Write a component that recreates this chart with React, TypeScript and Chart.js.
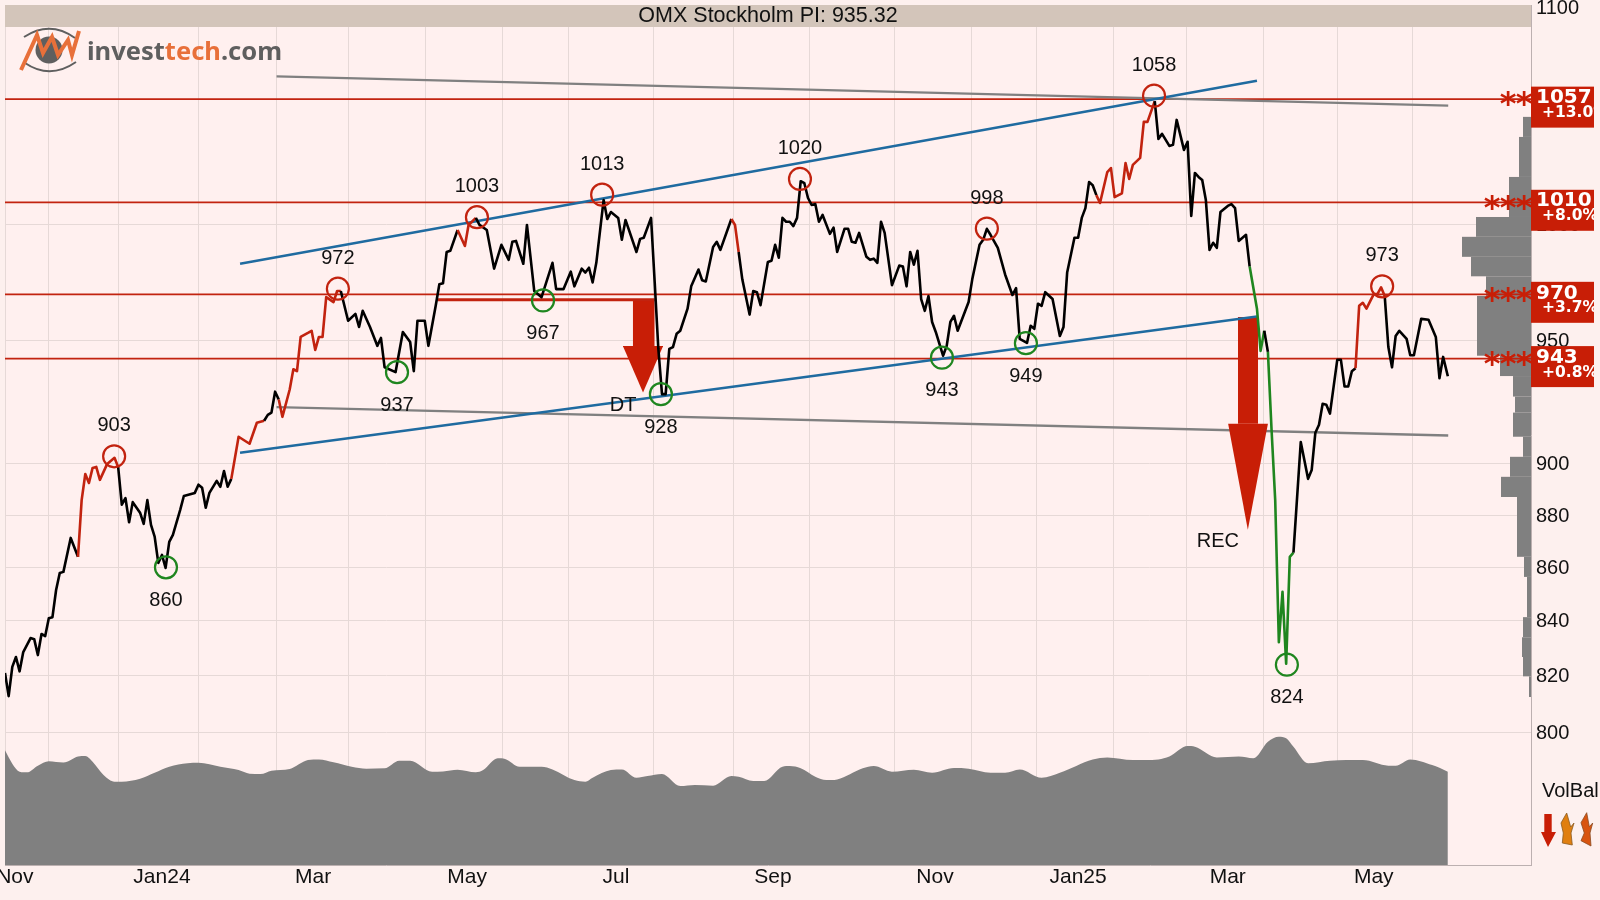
import React, { useEffect, useRef } from "react";
import { Chart, registerables } from "chart.js";

Chart.register(...registerables);

const titleText = "OMX Stockholm PI: 935.32";

// session = trading day counted from the left edge of the chart
const priceSessions = [
  0, 1, 2, 3, 4, 5, 7, 8, 9, 10, 11, 12, 13, 14, 15, 16, 18, 20, 21, 22, 23, 24, 25, 26, 28, 30, 31, 32, 33, 34, 35, 37, 38, 39, 40, 41, 42, 43, 44, 45, 46, 48, 49, 52, 53, 54, 55, 56, 58, 59,
  60, 61, 62, 64, 67, 69, 71, 72, 73, 74, 75, 76, 78, 79, 80, 81, 83, 84, 85, 86, 87, 88, 90, 91, 92, 94, 96, 97, 98, 100, 102, 103, 104, 107, 109, 111, 112, 113, 115, 116, 118, 119,
  120, 121, 122, 124, 126, 127, 129, 130, 132, 134, 136, 138, 139, 140, 142, 143, 145, 147, 150, 151, 153, 155, 156, 158, 159, 160, 161, 162, 164, 165, 166, 168, 169, 170, 173, 174, 175, 177, 178, 179,
  180, 181, 182, 183, 184, 185, 187, 188, 190, 191, 192, 194, 195, 196, 199, 200, 201, 202, 204, 205, 206, 207, 209, 210, 211, 212, 213, 214, 215, 216, 217, 218, 219,
  220, 221, 222, 223, 224, 226, 227, 228, 230, 231, 232, 233, 234, 236, 237, 238, 239, 240, 241, 243, 245, 246, 247, 248, 249, 250, 251, 252, 253, 254, 255, 257, 258, 259,
  260, 261, 264, 265, 267, 268, 269, 270, 272, 274, 276, 277, 278, 279, 280, 281, 282, 283, 284, 285, 287, 289, 290, 291, 293, 294, 295, 296, 297, 298, 299,
  300, 302, 303, 304, 306, 307, 308, 309, 311, 312, 313, 315, 316, 317, 319, 320, 321, 323, 324, 325, 326, 327, 328, 329, 330, 331, 332, 333, 335, 336, 337, 338, 340, 341, 343, 344, 345, 346, 347, 348, 349,
  350, 351, 352, 353, 355, 357, 358, 359, 360, 361, 362, 363, 365, 366, 367, 368, 369, 370, 371, 372, 373, 375, 376, 377, 378, 379,
  380, 381, 382, 384, 385, 386, 388, 390, 392, 393, 394, 395.3,
];
const priceValues = [
  821, 812.7, 823.2, 826.8, 821.6, 828.6, 833.7, 833.3, 827.5, 835.2, 834.4, 841, 841.4, 851.5, 857.9, 858.3, 871.2, 864, 885.8, 896, 892.5, 898.4, 898.8, 893.7, 900, 902.4, 898.8, 884, 886.6, 877.2, 885, 880.9, 876.6, 885.8, 876.2, 871.7, 861.7, 864.7, 859.8, 869.7, 872.4, 882, 887.4, 888.6, 891.8, 890.6, 882.8, 888.6, 893.3, 891,
  897.2, 891, 894.1, 910.8, 908, 916.4, 917.2, 919.6, 920.5, 929, 925.8, 918.8, 929.9, 938.2, 937.4, 951.6, 953.3, 954.2, 946.2, 951.6, 951.6, 968.4, 966.3, 971, 971, 958.4, 961.3, 955.8, 962.6, 955.8, 947.9, 951.2, 939, 937, 953.7, 949.5, 937.4, 958.4, 958.4, 947.9, 964.7, 973.9,
  974.3, 987.8, 988.3, 997.4, 990.4, 999.6, 1002.7, 999.6, 997.4, 980.6, 990.9, 984.4, 992.2, 992.6, 982.7, 999.6, 971, 968.4, 983.1, 971.8, 971.8, 979.3, 973, 980.6, 978.9, 981, 974.7, 983.1, 1010.6, 1002.2, 1005.3, 1002.7, 993.1, 1001.8, 987.8, 993.5, 994, 1002.7, 974.7, 946.6,
  928, 928, 946.6, 947.4, 952.9, 954.2, 963.5, 973, 980.2, 975.6, 975.1, 990, 992.2, 988.7, 1002.2, 999.6, 987.8, 976, 961, 971, 970.5, 965, 983.5, 984, 990.9, 985.3, 1002.7, 1001, 1001, 999.1, 1002.7, 1019, 1018.1,
  1011.5, 1008.4, 1008.8, 1001, 1004, 995.7, 998.4, 987.8, 997.9, 997.9, 992.2, 991.8, 996.1, 985.7, 984.4, 984.9, 983.1, 1001, 996.1, 973.5, 981.9, 981.5, 973, 987.8, 982.3, 988.3, 967.6, 962.6, 968.9, 957.9, 953.7, 943.8, 947.9, 957.9,
  960.5, 954.2, 966.3, 976, 990.9, 993.1, 997.9, 995.3, 989.6, 978.1, 969.3, 972.2, 950.8, 950, 949.1, 956.3, 955, 965.6, 964.7, 970.5, 967.6, 952, 955.8, 978.9, 994, 994, 1002.7, 1007, 1018.6, 1017.2, 1012.8,
  1009.3, 1023.1, 1024.9, 1011.9, 1013.6, 1027.2, 1020, 1026.3, 1029.5, 1045.9, 1045.9, 1055.5, 1038.1, 1040.4, 1034.9, 1035.4, 1046.8, 1033.1, 1036.8, 1003.6, 1022.7, 1020.9, 1019.5, 1010.6, 988.7, 991.8, 989.6, 1005.3, 1008, 1008.8, 1007, 992.6, 995.3, 981.5, 963.5, 945.8, 954.2, 945.4, 913.6, 885.8, 832.2,
  850.8, 824.4, 864, 865.6, 908.7, 894.1, 897.6, 912.4, 915.6, 924.1, 923.7, 920.1, 942.1, 942.1, 931.1, 931.1, 937.4, 938.6, 964.7, 966, 963.5, 969.7, 969.7, 972.6, 968.9, 947.4,
  939, 952, 954.2, 950.8, 944, 944, 959.2, 958.8, 951.6, 934.5, 943.3, 935.32,
];
const redRanges = [[20, 31], [62, 71], [75, 92], [124, 129], [135, 136], [199, 201], [299, 315], [370, 378]];
const greenRanges = [[341, 345], [346, 353]];

const volSessions = [
  0, 2, 4, 6, 9, 12, 16, 20, 22, 24, 27, 30, 32, 37, 41, 45, 50, 53, 59, 64, 67, 70, 73, 78, 83, 86, 90, 95, 99, 104, 108, 111, 117, 120, 124, 129, 131, 135, 137, 141, 147, 150, 156, 159, 161, 166, 169, 173, 176, 180, 185, 189, 194, 199, 201, 205, 208, 213, 215, 218,
  222, 225, 228, 235, 238, 243, 249, 254, 260, 264, 270, 274, 278, 284, 289, 298, 302, 309, 316, 319, 324, 326, 332, 338, 342, 346, 349, 351, 353, 357, 363, 372, 379, 381, 385, 391, 393, 395.3,
];
const volValues = [
  86, 76, 70, 69.5, 74.5, 77.8, 76.8, 81.3, 81.8, 77.5, 67.5, 62.5, 62.5, 64.7, 69.2, 73.7, 76.3, 76.7, 73.7, 71.2, 68.5, 68.2, 70.7, 72, 78.7, 79.2, 77, 73.7, 72.2, 72.5, 78.2, 78.2, 70, 70.2, 71.5, 69.5, 71.2, 80, 79.5, 73.7, 73.7, 71.7, 63.7, 62.5, 65.5, 71.2, 71.7, 65.5, 66.7, 68.2, 59.2, 60, 59.5, 66.7, 66.2, 63, 63, 73.7, 74.2, 72.5,
  66.2, 63.7, 64.2, 72.5, 74.2, 70, 71.5, 69.2, 72.7, 72.2, 69.2, 69.2, 71.7, 65.5, 69.2, 79.2, 80.7, 78.7, 79.2, 81.3, 89.2, 88.7, 80.7, 81.3, 80, 92.5, 96.2, 95, 88.7, 76.3, 78.2, 78.7, 74.5, 74.5, 79.2, 75, 73, 70,
];

// volume at price, bin edges in index points from top to bottom
const profileEdges = [1048.2, 1039, 1020.9, 1003.1, 994.4, 985.7, 977.3, 968.9, 943.8, 935.4, 927, 920.5, 910.8, 902.8, 894.9, 887, 864, 856.4, 841.4, 834, 826.8, 819.8, 812.4];
const profileVolumes = [8, 12, 22, 55, 69, 60, 45, 54, 31, 18, 16, 18, 8, 21, 30, 14, 7, 4, 8, 9, 8, 2];

const highSessions = [29.9, 91.2, 129.3, 163.6, 217.8, 269, 314.8, 377.3];
const highValues = [903, 972, 1003, 1013, 1020, 998, 1058, 973];
const lowSessions = [44.1, 107.4, 147.4, 179.7, 256.7, 279.7, 351.2];
const lowValues = [860, 937, 967, 928, 943, 949, 824];

const levelLabels = ["1057", "1010", "970", "943"];
const levelValues = [1056.4, 1009.6, 969.6, 942.6];
const levelChanges = ["+13.0%", "+8.0%", "+3.7%", "+0.8%"];
const levelStars = [2, 3, 3, 3];

const channelUpper = { sessions: [64.4, 343], values: [982.7, 1065] };
const channelLower = { sessions: [64.4, 343], values: [904.4, 960.2] };
const greyUpper = { sessions: [74.4, 395.4], values: [1067, 1053.4] };
const greyLower = { sessions: [74.4, 395.4], values: [922.7, 911.3] };
const dtNeckline = { sessions: [118.5, 178], values: [967.3, 967.3] };

const dtArrow = { shaft: [172, 178], top: 967.3, base: 947.8, head: [169.3, 180.3], tip: [174.8, 928.7] };
const recArrow = { shaft: [337.8, 343.3], top: 960, base: 916, head: [335.1, 346], tip: [340.5, 874.3] };

const yTicks = [1100, 1000, 950, 900, 880, 860, 840, 820, 800];
const monthStarts = [0, 12.05, 31, 53.15, 74.25, 94.2, 115.3, 136.4, 154.5, 177.8, 199.7, 220.5, 243.6, 264.7, 282.7, 303.8, 323.8, 344.9, 365.2, 385.5];
const monthLabelSessions = [2.7, 43, 84.4, 126.6, 167.4, 210.4, 254.8, 294, 335, 375];
const monthLabels = ["Nov", "Jan24", "Mar", "May", "Jul", "Sep", "Nov", "Jan25", "Mar", "May"];

const RED = "#c81e06";
const LINE_RED = "#c2230f";
const GREEN = "#1f861f";
const BLUE = "#1f6ba0";
const GREY = "#808080";
const GRID = "#e6d9d7";
const TEXT_FONT = "20px 'Liberation Sans', Arial, sans-serif";

const inRange = (ranges: number[][], a: number, b: number) =>
  ranges.some(([from, to]) => a >= from && b <= to);

const zip = (xs: number[], ys: number[]) => xs.map((x, i) => ({ x, y: ys[i] }));

const trendLine = (line: { sessions: number[]; values: number[] }, color: string, width: number) => ({
  data: zip(line.sessions, line.values),
  borderColor: color,
  borderWidth: width,
  pointRadius: 0,
});

const arrowParts = (a: typeof dtArrow) => [
  {
    data: [{ x: a.shaft[0], y: a.top }, { x: a.shaft[1], y: a.top }],
    fill: { value: a.base },
    backgroundColor: RED,
    borderWidth: 0,
    pointRadius: 0,
  },
  {
    data: [{ x: a.head[0], y: a.base }, { x: a.tip[0], y: a.tip[1] }, { x: a.head[1], y: a.base }],
    fill: { value: a.base },
    backgroundColor: RED,
    borderWidth: 0,
    pointRadius: 0,
  },
];

const polygon = (ctx: CanvasRenderingContext2D, pts: number[][], fill: string, stroke?: string) => {
  ctx.beginPath();
  pts.forEach(([x, y], i) => (i ? ctx.lineTo(x, y) : ctx.moveTo(x, y)));
  ctx.closePath();
  ctx.fillStyle = fill;
  ctx.fill();
  if (stroke) {
    ctx.strokeStyle = stroke;
    ctx.lineWidth = 0.8;
    ctx.stroke();
  }
};

const drawLogo = (ctx: CanvasRenderingContext2D) => {
  ctx.save();
  ctx.fillStyle = "#5f5f5f";
  ctx.beginPath();
  ctx.arc(49, 50, 13.5, 0, Math.PI * 2);
  ctx.fill();
  ctx.strokeStyle = "#5f5f5f";
  ctx.lineWidth = 2;
  ctx.beginPath();
  ctx.moveTo(24, 37);
  ctx.quadraticCurveTo(50, 20, 75, 38);
  ctx.stroke();
  ctx.beginPath();
  ctx.moveTo(25, 63);
  ctx.quadraticCurveTo(50, 80, 76, 62);
  ctx.stroke();
  ctx.strokeStyle = "#e8703a";
  ctx.lineWidth = 4;
  ctx.beginPath();
  [[21, 70], [37, 35], [43, 53], [52, 37], [58, 55], [68, 40], [72, 55], [79, 31]].forEach(([x, y], i) =>
    i ? ctx.lineTo(x, y) : ctx.moveTo(x, y)
  );
  ctx.stroke();
  ctx.font = "bold 25.5px 'Noto Sans', sans-serif";
  ctx.textAlign = "left";
  ctx.textBaseline = "alphabetic";
  let x = 87;
  [["invest", "#5f5f5f"], ["tech", "#e8703a"], [".com", "#5f5f5f"]].forEach(([part, color]) => {
    ctx.fillStyle = color;
    ctx.fillText(part, x, 60);
    x += ctx.measureText(part).width;
  });
  ctx.restore();
};

const investtechPlugin = {
  id: "investtech",
  beforeDraw(chart: any) {
    const { ctx, chartArea: a } = chart;
    ctx.save();
    ctx.fillStyle = "#fff0ef";
    ctx.fillRect(a.left, a.top, a.right - a.left, a.bottom - a.top);
    ctx.restore();
  },
  beforeDatasetsDraw(chart: any) {
    const { ctx, chartArea: a, scales } = chart;
    ctx.save();
    // title band
    ctx.fillStyle = "#d3c5ba";
    ctx.fillRect(a.left, a.top, a.right - a.left, 22);
    ctx.fillStyle = "#111";
    ctx.font = "21.5px 'Liberation Sans', Arial, sans-serif";
    ctx.textAlign = "center";
    ctx.textBaseline = "middle";
    ctx.fillText(titleText, (a.left + a.right) / 2, a.top + 11);
    // volume profile against the right edge
    ctx.fillStyle = GREY;
    profileVolumes.forEach((vol, i) => {
      const top = scales.y.getPixelForValue(profileEdges[i]);
      const bottom = scales.y.getPixelForValue(profileEdges[i + 1]);
      const left = scales.xProfile.getPixelForValue(vol);
      ctx.fillRect(left, top, a.right - left, bottom - top);
    });
    drawLogo(ctx);
    ctx.restore();
  },
  afterDatasetsDraw(chart: any) {
    const { ctx, chartArea: a, scales } = chart;
    const { x: xs, y: ys } = scales;
    ctx.save();
    ctx.font = TEXT_FONT;
    ctx.fillStyle = "#111";
    ctx.textAlign = "center";
    ctx.textBaseline = "middle";
    highValues.forEach((v, i) => ctx.fillText(String(v), xs.getPixelForValue(highSessions[i]), ys.getPixelForValue(v) - 30.5));
    lowValues.forEach((v, i) => ctx.fillText(String(v), xs.getPixelForValue(lowSessions[i]), ys.getPixelForValue(v) + 33));
    ctx.fillText("DT", xs.getPixelForValue(dtArrow.tip[0]) - 20, ys.getPixelForValue(dtArrow.tip[1]) + 13);
    ctx.fillText("REC", xs.getPixelForValue(recArrow.tip[0]) - 30, ys.getPixelForValue(recArrow.tip[1]) + 12);

    levelValues.forEach((level, i) => {
      const y = ys.getPixelForValue(level);
      ctx.fillStyle = RED;
      ctx.font = "bold 32px 'DejaVu Sans', sans-serif";
      ctx.textAlign = "center";
      ctx.textBaseline = "middle";
      for (let s = 0; s < levelStars[i]; s++) {
        ctx.fillText("*", a.right - 7 - s * 16, y + 7);
      }
      ctx.fillRect(a.right, y - 12.5, 63, 41);
      ctx.save();
      ctx.beginPath();
      ctx.rect(a.right, y - 12.5, 63, 41);
      ctx.clip();
      ctx.fillStyle = "#fff";
      ctx.textAlign = "left";
      ctx.font = "bold 20px 'DejaVu Sans', sans-serif";
      ctx.fillText(levelLabels[i], a.right + 5, y - 1);
      ctx.font = "bold 15.5px 'DejaVu Sans', sans-serif";
      ctx.fillText(levelChanges[i], a.right + 11, y + 14);
      ctx.restore();
    });

    // VolBal indicator
    ctx.fillStyle = "#111";
    ctx.font = TEXT_FONT;
    ctx.textAlign = "left";
    ctx.fillText("VolBal", 1542, 791);
    polygon(ctx, [[1544.3, 814], [1551.7, 814], [1551.7, 832], [1556, 832], [1548, 847], [1541, 832], [1544.3, 832]], RED);
    polygon(ctx, [[1566.7, 813], [1561, 823], [1563.3, 833], [1562.3, 843], [1572.3, 845], [1571, 833], [1574, 823], [1570.7, 827]], "#e07f10", "#8a5a20");
    polygon(ctx, [[1586.7, 812.7], [1581, 822.7], [1584.3, 833], [1581, 840.7], [1591, 846], [1590, 833], [1592.7, 823], [1589.3, 826.7]], "#d8540f", "#8a4a20");
    ctx.restore();
  },
};

const App: React.FC = () => {
  const canvasRef = useRef<HTMLCanvasElement | null>(null);

  useEffect(() => {
    if (!canvasRef.current) return;

    const levelLines = levelValues.map((level) => ({
      data: [{ x: 0, y: level }, { x: 418.08, y: level }],
      borderColor: LINE_RED,
      borderWidth: 1.8,
      pointRadius: 0,
    }));

    const chart = new Chart(canvasRef.current, {
      type: "line",
      data: {
        datasets: [
          {
            data: zip(highSessions, highValues),
            showLine: false,
            pointStyle: "circle",
            pointRadius: 11,
            pointBorderWidth: 2.2,
            pointBorderColor: LINE_RED,
            pointBackgroundColor: "transparent",
          },
          {
            data: zip(lowSessions, lowValues),
            showLine: false,
            pointStyle: "circle",
            pointRadius: 11,
            pointBorderWidth: 2.2,
            pointBorderColor: GREEN,
            pointBackgroundColor: "transparent",
          },
          {
            data: zip(priceSessions, priceValues),
            borderColor: "#000",
            borderWidth: 2.6,
            pointRadius: 0,
            borderJoinStyle: "round",
            segment: {
              borderColor: (ctx: any) => {
                const a = ctx.p0.parsed.x;
                const b = ctx.p1.parsed.x;
                if (inRange(redRanges, a, b)) return LINE_RED;
                if (inRange(greenRanges, a, b)) return GREEN;
                return "#000";
              },
            },
          },
          trendLine(channelUpper, BLUE, 2.5),
          trendLine(channelLower, BLUE, 2.5),
          trendLine(dtNeckline, LINE_RED, 3),
          ...arrowParts(dtArrow),
          ...arrowParts(recArrow),
          trendLine(greyUpper, GREY, 2.4),
          trendLine(greyLower, GREY, 2.4),
          ...levelLines,
          {
            data: zip(volSessions, volValues),
            yAxisID: "yVol",
            borderWidth: 0,
            pointRadius: 0,
            cubicInterpolationMode: "monotone",
            fill: "start",
            backgroundColor: GREY,
          },
        ] as any,
      },
      options: {
        responsive: false,
        animation: false,
        events: [],
        layout: { autoPadding: false, padding: { left: 5, top: 5, right: 0, bottom: 0 } },
        plugins: { legend: { display: false }, tooltip: { enabled: false } },
        scales: {
          x: {
            type: "linear",
            min: 0,
            max: 418.08,
            bounds: "data",
            border: { display: true, color: "#bcb0b0" },
            grid: {
              drawTicks: false,
              color: (ctx: any) => (monthStarts.includes(ctx.tick?.value) ? GRID : "transparent"),
            },
            ticks: {
              autoSkip: false,
              maxRotation: 0,
              padding: 0,
              color: "#111",
              font: { size: 21, family: "'Liberation Sans', Arial, sans-serif" },
              callback: (value: any) => {
                const i = monthLabelSessions.indexOf(value);
                return i >= 0 ? monthLabels[i] : "";
              },
            },
            afterBuildTicks: (scale: any) => {
              scale.ticks = [...monthStarts, ...monthLabelSessions].sort((a, b) => a - b).map((value) => ({ value }));
            },
            afterFit: (scale: any) => {
              scale.height = 35;
              scale.paddingLeft = 0;
              scale.paddingRight = 0;
            },
          },
          y: {
            type: "logarithmic",
            position: "right",
            min: 754.6,
            max: 1101,
            bounds: "data",
            border: { display: true, color: "#bcb0b0" },
            grid: { drawTicks: false, color: GRID },
            ticks: {
              autoSkip: false,
              padding: 5,
              labelOffset: 1,
              color: "#111",
              font: { size: 20, family: "'Liberation Sans', Arial, sans-serif" },
              callback: (value: any) => String(value),
            },
            afterBuildTicks: (scale: any) => {
              scale.ticks = yTicks.map((value) => ({ value }));
            },
            afterFit: (scale: any) => {
              scale.width = 69;
              scale.paddingTop = 0;
              scale.paddingBottom = 0;
            },
          },
          yVol: { type: "linear", display: false, min: 0, max: 645 },
          xProfile: { type: "linear", axis: "x", display: false, min: 0, max: 1526, reverse: true },
        },
      } as any,
      plugins: [investtechPlugin],
    });

    return () => chart.destroy();
  }, []);

  return (
    <div style={{ position: "fixed", left: 0, top: 0, width: 1600, height: 900, background: "#fdf0ee" }}>
      <canvas ref={canvasRef} width={1600} height={900} style={{ display: "block" }} />
    </div>
  );
};

export default App;
